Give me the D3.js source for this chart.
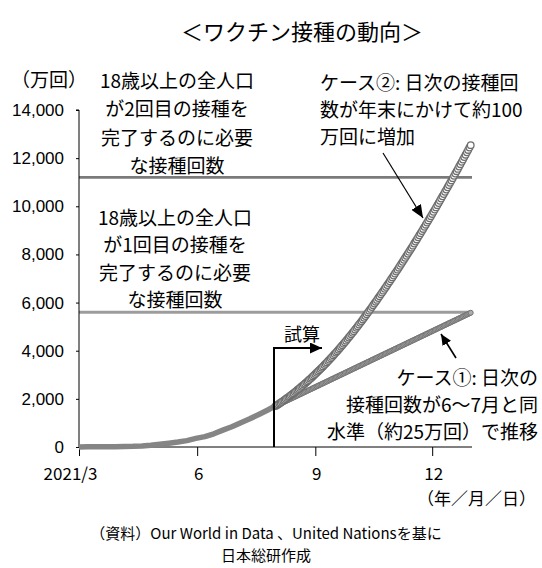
<!DOCTYPE html>
<html>
<head>
<meta charset="utf-8">
<script src="https://cdn.jsdelivr.net/npm/d3@7"></script>
<style>
  body { margin: 0; background: #fff; }
  svg { display: block; }
</style>
</head>
<body>
<svg id="chart" width="542" height="568"></svg>
<script>
// ---- data ----------------------------------------------------------------
const titleText = "＜ワクチン接種の動向＞";
const unitLabel = "（万回）";

const yTicks = [0, 2000, 4000, 6000, 8000, 10000, 12000, 14000];
const xTickDates = ["2021-03-01", "2021-06-01", "2021-09-01", "2021-12-01"];
const xTickLabels = ["2021/3", "6", "9", "12"];
const xAxisNote = "（年／月／日）";

// cumulative doses to date (万回)
const actualDates = [
  "2021-03-01", "2021-03-08", "2021-03-15", "2021-03-22", "2021-03-29",
  "2021-04-05", "2021-04-12", "2021-04-19", "2021-04-26", "2021-05-03",
  "2021-05-10", "2021-05-17", "2021-05-24", "2021-05-31", "2021-06-07",
  "2021-06-14", "2021-06-21", "2021-06-28", "2021-07-05", "2021-07-12",
  "2021-07-19", "2021-07-26", "2021-07-31"
];
const actualValues = [
  5, 8, 10, 13, 15, 20, 28, 45, 75, 120,
  160, 205, 265, 360, 430, 550, 700, 840, 1010, 1170,
  1350, 1540, 1680
];

// projections, one value per day from this date to 2021-12-31 (万回)
const projectionStart = "2021-08-01";

// case ①: daily pace held at the June–July level
const case1Values = [
  1700, 1726, 1751, 1777, 1802, 1828, 1853, 1879, 1904, 1930,
  1955, 1981, 2006, 2032, 2057, 2083, 2108, 2134, 2159, 2185,
  2210, 2236, 2261, 2287, 2312, 2338, 2363, 2389, 2414, 2440,
  2465, 2491, 2516, 2542, 2567, 2593, 2618, 2644, 2669, 2695,
  2720, 2746, 2771, 2797, 2822, 2848, 2873, 2899, 2924, 2950,
  2975, 3001, 3026, 3052, 3077, 3103, 3128, 3154, 3179, 3205,
  3230, 3256, 3281, 3307, 3332, 3358, 3383, 3409, 3434, 3460,
  3485, 3511, 3536, 3562, 3587, 3613, 3638, 3664, 3689, 3715,
  3740, 3766, 3791, 3817, 3842, 3868, 3893, 3919, 3944, 3970,
  3995, 4021, 4046, 4072, 4097, 4123, 4148, 4174, 4199, 4225,
  4250, 4276, 4301, 4327, 4352, 4378, 4403, 4429, 4454, 4480,
  4505, 4531, 4556, 4582, 4607, 4633, 4658, 4684, 4709, 4735,
  4760, 4786, 4811, 4837, 4862, 4888, 4913, 4939, 4964, 4990,
  5015, 5041, 5066, 5092, 5117, 5143, 5168, 5194, 5219, 5245,
  5270, 5296, 5321, 5347, 5372, 5398, 5423, 5449, 5474, 5500,
  5525, 5551, 5576
];

// case ②: daily pace rising toward about 100万回 by year end
const case2Values = [
  1700, 1735, 1770, 1806, 1843, 1880, 1917, 1955, 1994, 2033,
  2073, 2113, 2154, 2195, 2237, 2280, 2323, 2366, 2410, 2455,
  2500, 2545, 2592, 2638, 2686, 2733, 2782, 2831, 2880, 2930,
  2981, 3032, 3083, 3135, 3188, 3241, 3295, 3349, 3404, 3459,
  3515, 3572, 3629, 3686, 3744, 3803, 3862, 3922, 3982, 4042,
  4104, 4166, 4228, 4291, 4354, 4418, 4483, 4548, 4613, 4680,
  4746, 4813, 4881, 4949, 5018, 5088, 5158, 5228, 5299, 5370,
  5443, 5515, 5590,
  5664, 5737, 5812, 5886, 5961, 6036, 6112, 6188, 6264, 6341,
  6418, 6495, 6573, 6651, 6729, 6808, 6886, 6966, 7045, 7125,
  7206, 7286, 7367, 7449, 7530, 7612, 7695, 7777, 7860, 7944,
  8027, 8111, 8196, 8280, 8365, 8451, 8536, 8623, 8709, 8796,
  8883, 8970, 9058, 9146, 9234, 9323, 9412, 9501, 9591, 9681,
  9772, 9862, 9954, 10045, 10137, 10229, 10321, 10414, 10507, 10601,
  10694, 10789, 10883, 10978, 11073, 11168, 11264, 11360, 11457, 11554,
  11651, 11748, 11846, 11944, 12043, 12142, 12241, 12340, 12440, 12540
];

// doses needed for the whole 18+ population (万回)
const firstDoseTotal = 5600;
const secondDoseTotal = 11200;

const secondDoseNote = ["18歳以上の全人口", "が2回目の接種を", "完了するのに必要", "な接種回数"];
const firstDoseNote = ["18歳以上の全人口", "が1回目の接種を", "完了するのに必要", "な接種回数"];
const case2Note = ["ケース②: 日次の接種回", "数が年末にかけて約100", "万回に増加"];
const case1Note = ["ケース①: 日次の", "接種回数が6～7月と同", "水準（約25万回）で推移"];
const projectionLabel = "試算";
const sourceNote = ["（資料）Our World in Data 、United Nationsを基に", "日本総研作成"];

// ---- drawing --------------------------------------------------------------
const JP = "'Noto Sans CJK JP', 'Noto Sans', sans-serif";
const NUM = "'Liberation Sans', Arial, sans-serif";
const parse = d3.timeParse("%Y-%m-%d");

const svg = d3.select("#chart");

const x = d3.scaleTime()
  .domain([parse("2021-03-01"), parse("2022-01-01")])
  .range([79, 472]);
const y = d3.scaleLinear()
  .domain([0, 14000])
  .range([447, 110]);

const start = parse(projectionStart);
const case1 = case1Values.map((v, i) => ({ date: d3.timeDay.offset(start, i), value: v }));
const case2 = case2Values.map((v, i) => ({ date: d3.timeDay.offset(start, i), value: v }));
const actual = actualDates.map((d, i) => ({ date: parse(d), value: actualValues[i] }));

// title
svg.append("text")
  .attr("x", 302).attr("y", 30)
  .attr("text-anchor", "middle").attr("dominant-baseline", "central")
  .style("font-family", JP).style("font-size", "22px").attr("fill", "#000")
  .text(titleText);

// reference lines for full first / second dose coverage
const refLines = svg.append("g");
refLines.append("line")
  .attr("x1", x.range()[0]).attr("x2", x.range()[1])
  .attr("y1", y(secondDoseTotal)).attr("y2", y(secondDoseTotal))
  .attr("stroke", "#7a7a7a").attr("stroke-width", 2.6);
refLines.append("line")
  .attr("x1", x.range()[0]).attr("x2", x.range()[1])
  .attr("y1", y(firstDoseTotal)).attr("y2", y(firstDoseTotal))
  .attr("stroke", "#9c9c9c").attr("stroke-width", 3);

// axes
const yAxis = d3.axisLeft(y).tickValues(yTicks).tickSize(3).tickPadding(12)
  .tickFormat(d3.format(","));
const gy = svg.append("g").attr("transform", `translate(${x.range()[0]},0)`).call(yAxis);
gy.select(".domain").attr("d", `M-3,${y(14000)}H0V${y(0)}`).attr("stroke", "#000");
gy.selectAll(".tick line").attr("stroke", "#000");
gy.selectAll(".tick text").style("font-family", NUM).style("font-size", "17px").attr("fill", "#000");

const xAxis = d3.axisBottom(x)
  .tickValues(xTickDates.map(parse))
  .tickSize(9).tickPadding(12)
  .tickFormat((d, i) => xTickLabels[i]);
const gx = svg.append("g").attr("transform", `translate(0,${y(0)})`).call(xAxis);
gx.select(".domain").attr("d", `M${x.range()[0]},0H${x.range()[1]}`).attr("stroke", "#000");
gx.selectAll(".tick line").attr("stroke", "#000");
gx.selectAll(".tick text").style("font-family", JP).style("font-size", "17px").attr("fill", "#000")
  .attr("dx", (d, i) => i === 0 ? -9 : 1);

// observed cumulative doses
svg.append("path")
  .datum(actual)
  .attr("fill", "none")
  .attr("stroke", "#858585")
  .attr("stroke-width", 5.5)
  .attr("stroke-linejoin", "round")
  .attr("d", d3.line().x(d => x(d.date)).y(d => y(d.value)));

// case ① markers
svg.append("g").selectAll("circle").data(case1).join("circle")
  .attr("cx", d => x(d.date)).attr("cy", d => y(d.value))
  .attr("r", 2.5)
  .attr("fill", "#adadad").attr("stroke", "#757575").attr("stroke-width", 1);

// case ② markers
svg.append("g").selectAll("circle").data(case2).join("circle")
  .attr("cx", d => x(d.date)).attr("cy", d => y(d.value))
  .attr("r", 3.3)
  .attr("fill", "#fff").attr("stroke", "#6e6e6e").attr("stroke-width", 1.3);

// arrowheads
const defs = svg.append("defs");
function head(id, len, wid) {
  defs.append("marker")
    .attr("id", id).attr("markerUnits", "userSpaceOnUse")
    .attr("viewBox", `0 0 ${len} ${wid}`)
    .attr("refX", len).attr("refY", wid / 2)
    .attr("markerWidth", len).attr("markerHeight", wid)
    .attr("orient", "auto")
    .append("path").attr("d", `M0,0L${len},${wid / 2}L0,${wid}Z`).attr("fill", "#000");
}
head("head-big", 13, 11);
head("head-small", 11, 10);
head("head-proj", 12, 11);

// projection bracket
const xProj = x(start) - 1.5;
svg.append("path")
  .attr("d", `M${xProj},${y(0)}V348H322`)
  .attr("fill", "none").attr("stroke", "#000").attr("stroke-width", 2)
  .attr("marker-end", "url(#head-proj)");
svg.append("text")
  .attr("x", 302).attr("y", 333)
  .attr("text-anchor", "middle").attr("dominant-baseline", "central")
  .style("font-family", JP).style("font-size", "18px").attr("fill", "#000")
  .text(projectionLabel);

// callout arrows
svg.append("line")
  .attr("x1", 383).attr("y1", 153).attr("x2", 423).attr("y2", 218)
  .attr("stroke", "#000").attr("stroke-width", 1.2)
  .attr("marker-end", "url(#head-big)");
svg.append("line")
  .attr("x1", 456).attr("y1", 358).attr("x2", 441).attr("y2", 334)
  .attr("stroke", "#000").attr("stroke-width", 1.6)
  .attr("marker-end", "url(#head-small)");

// multi-line notes
function note(lines, xPos, yTop, step, anchor, size) {
  const t = svg.append("text")
    .attr("text-anchor", anchor)
    .style("font-family", JP).style("font-size", size + "px").attr("fill", "#000");
  lines.forEach((s, i) => {
    t.append("tspan").attr("x", xPos).attr("y", yTop + i * step)
      .attr("dominant-baseline", "central").text(s);
  });
}
note([unitLabel], 49, 78, 0, "middle", 19);
note(secondDoseNote, 177, 79, 28.5, "middle", 19);
note(firstDoseNote, 175, 216, 27.5, "middle", 19);
note(case2Note, 320, 81, 27, "start", 19);
note(case1Note, 538, 376, 27, "end", 19);
note([xAxisNote], 536, 497, 0, "end", 17);
note(sourceNote, 266, 532, 22, "middle", 15);
</script>
</body>
</html>
